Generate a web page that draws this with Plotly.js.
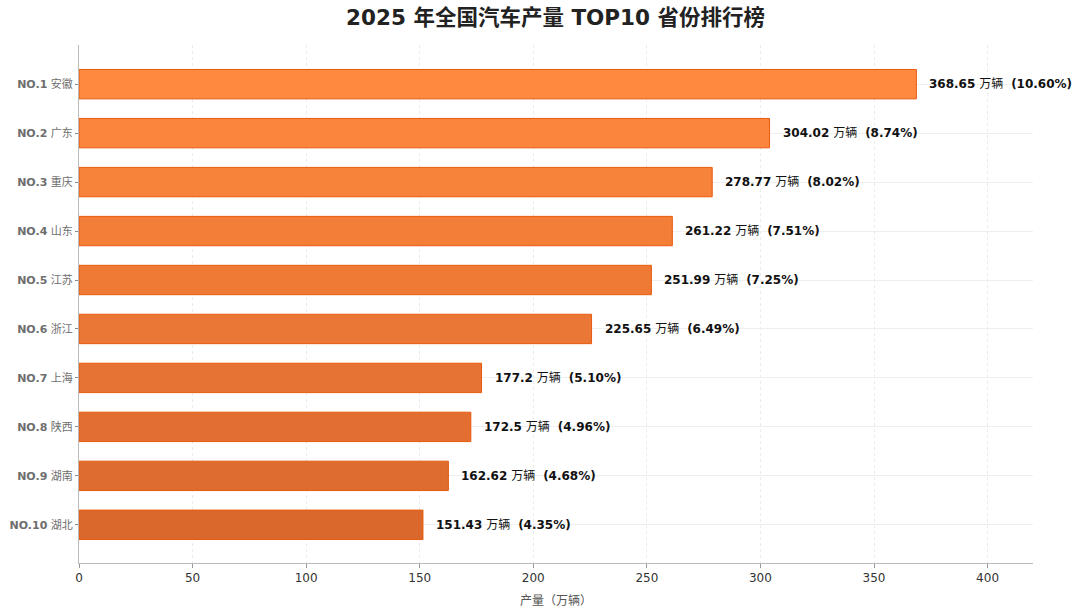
<!DOCTYPE html>
<html>
<head>
<meta charset="utf-8">
<script src="https://cdn.plot.ly/plotly-3.0.1.min.js"></script>
<style>
  html, body { margin: 0; padding: 0; background: #fff; }
  #chart { width: 1080px; height: 615px; }
</style>
</head>
<body>
<div id="chart"></div>
<script>
// 2025 vehicle output by province, top 10 (unit: 10k vehicles)
const ranks = ["NO.1", "NO.2", "NO.3", "NO.4", "NO.5", "NO.6", "NO.7", "NO.8", "NO.9", "NO.10"];
const provinces = ["安徽", "广东", "重庆", "山东", "江苏", "浙江", "上海", "陕西", "湖南", "湖北"];
const output = [368.65, 304.02, 278.77, 261.22, 251.99, 225.65, 177.2, 172.5, 162.62, 151.43];
const share = ["10.60%", "8.74%", "8.02%", "7.51%", "7.25%", "6.49%", "5.10%", "4.96%", "4.68%", "4.35%"];
const xTicks = [0, 50, 100, 150, 200, 250, 300, 350, 400];

const cjk = '"DejaVu Sans", "Noto Sans CJK SC", sans-serif';

// orange shading that darkens from the top rank to the bottom one
function shade(i, n) {
  const a = [255, 137, 62], b = [218, 104, 45];
  const t = n > 1 ? i / (n - 1) : 0;
  const c = a.map((v, k) => Math.round(v + (b[k] - v) * t));
  return `rgb(${c[0]},${c[1]},${c[2]})`;
}
const barColors = output.map((_, i) => shade(i, output.length));

const cats = ranks.map((r, i) => `${r} ${provinces[i]}`);
const tickText = ranks.map((r, i) => `<b>${r}</b> ${provinces[i]}`);

const trace = {
  type: 'bar',
  orientation: 'h',
  x: output,
  y: cats,
  width: 0.6,
  marker: {
    color: barColors,
    line: { color: 'rgb(232,90,12)', width: 1 }
  },
  hoverinfo: 'x+y',
  cliponaxis: false
};

const annotations = output.map((v, i) => ({
  x: v,
  y: cats[i],
  xref: 'x',
  yref: 'y',
  xanchor: 'left',
  yanchor: 'middle',
  xshift: 11,
  showarrow: false,
  text: `<b>${v}</b> 万辆 <b> (${share[i]})</b>`,
  font: { family: cjk, size: 12, color: '#111' }
}));

const layout = {
  width: 1080,
  height: 615,
  margin: { l: 79, r: 47, t: 45, b: 52 },
  paper_bgcolor: '#fff',
  plot_bgcolor: '#fff',
  font: { family: cjk, color: '#333' },
  title: {
    text: '<b>2025 年全国汽车产量 TOP10 省份排行榜</b>',
    x: 0.5144, xanchor: 'center',
    y: 0.972, yanchor: 'middle',
    font: { family: cjk, size: 21.5, color: '#222' }
  },
  xaxis: {
    range: [0, 420],
    tickmode: 'array',
    tickvals: xTicks,
    ticktext: xTicks.map(String),
    ticks: 'outside',
    ticklen: 4,
    tickcolor: '#999',
    tickfont: { family: cjk, size: 12, color: '#333' },
    showline: true,
    linecolor: '#bbb',
    linewidth: 1,
    showgrid: true,
    gridcolor: '#ebebeb',
    griddash: '3px,3px',
    gridwidth: 1,
    zeroline: false,
    title: {
      text: '产量（万辆）',
      standoff: 12,
      font: { family: cjk, size: 12, color: '#555' }
    }
  },
  yaxis: {
    type: 'category',
    range: [9.78, -0.8],
    tickmode: 'array',
    tickvals: cats,
    ticktext: tickText,
    ticks: 'outside',
    ticklen: 3,
    tickcolor: '#888',
    tickfont: { family: cjk, size: 11, color: '#6e6e6e' },
    showline: true,
    linecolor: '#bbb',
    linewidth: 1,
    showgrid: true,
    gridcolor: '#efefef',
    gridwidth: 1,
    zeroline: false
  },
  annotations: annotations,
  showlegend: false,
  bargap: 0.4
};

Plotly.newPlot('chart', [trace], layout, { displayModeBar: false, staticPlot: true });
</script>
</body>
</html>
